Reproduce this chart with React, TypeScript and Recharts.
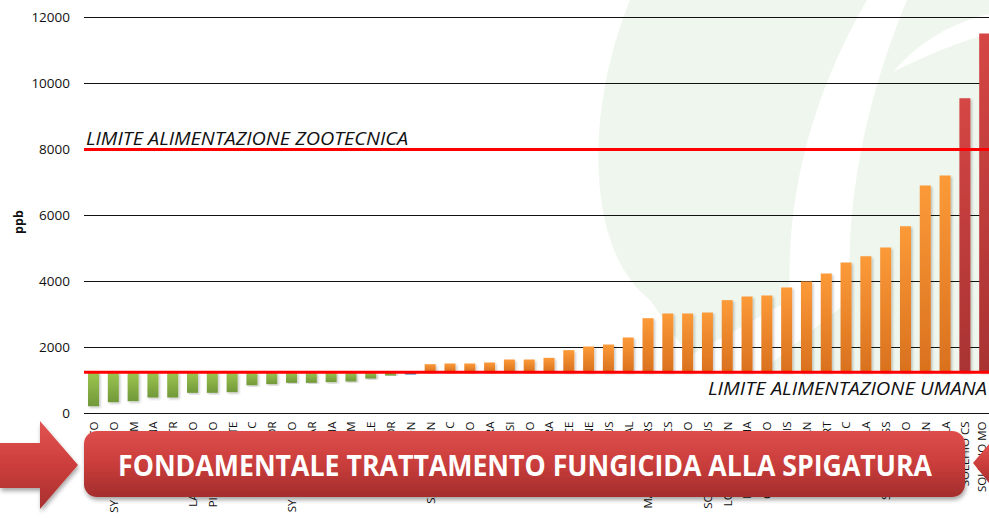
import { BarChart, Bar, XAxis, YAxis, CartesianGrid, ReferenceLine, Cell } from "recharts";

// varietà in prova, ordinate per contenuto di DON (ppb)
const categories = [
  "ARTICO", "SY MONTALCINO", "ARKADIA CM", "BOLOGNA", "NOGAL TR",
  "LA CASTELLARO", "PINEROLO BRIO", "CIRCE FORTE", "TIREX C", "SANTOR",
  "SY CAMPANELLO", "ALAMBAR", "ARABIA", "PALESIO M", "GENTILE",
  "GLADIATOR", "AUBUSSON", "SAGITTARIO SN", "BRAMANTE C", "TIEPOLO",
  "BANDERA", "GENESI", "SOLLARIO", "ALTAMIRA", "CAPRICE",
  "AMARONE", "ROMULUS", "NOGAL", "MANHATTAN RS", "ISENGRAIN CS",
  "CENTAURO", "SONATINA PLUS", "LOMBARDIA CN", "LIBELLULA MA", "CLAUDIO ORO",
  "ANTALIS", "DYLAN", "ALBERT", "IRIDE C", "SARAGOLLA",
  "SIMETO PLUSS", "NORMANNO", "TRISTAN", "ISOLA BELLA", "SOLEHIO CS",
  "SOLEHIO MO",
];

const values = [
  220, 342, 373, 485, 485, 626, 626, 646, 858, 889,
  929, 929, 950, 970, 1060, 1150, 1180, 1495, 1515, 1515,
  1545, 1636, 1636, 1687, 1920, 2030, 2090, 2303, 2888, 3030,
  3030, 3060, 3435, 3545, 3576, 3818, 4000, 4242, 4576, 4767,
  5030, 5676, 6909, 7212, 9555, 11515,
];

const yTicks = [0, 2000, 4000, 6000, 8000, 10000, 12000];

const LIMITE_UMANA = 1250;
const LIMITE_ZOOTECNICA = 8000;
const labelZoo = "LIMITE ALIMENTAZIONE ZOOTECNICA";
const labelUmana = "LIMITE ALIMENTAZIONE UMANA";
const bannerText = "FONDAMENTALE TRATTAMENTO FUNGICIDA ALLA SPIGATURA";

const data = categories.map((name, i) => ({ name, value: values[i] }));

const BLUE_INDEX = 16;
const FONT = "'Open Sans', sans-serif";

function barFill(v: number, i: number) {
  if (i === BLUE_INDEX) return "#4F81BD";
  if (v < LIMITE_UMANA) return "url(#gGreen)";
  if (v > LIMITE_ZOOTECNICA) return "url(#gRed)";
  return "url(#gOrange)";
}

function XTick({ x, y, payload, index }: any) {
  const ty = y + 6;
  // the last label sits on the page edge: pull it in a little
  const tx = index === categories.length - 1 ? x - 3 : x;
  return (
    <text
      x={tx}
      y={ty}
      dy="0.35em"
      transform={`rotate(-90, ${tx}, ${ty})`}
      textAnchor="end"
      fontSize={11.5}
      fontFamily={FONT}
      fill="#111"
    >
      {payload.value}
    </text>
  );
}

function Background() {
  return (
    <svg width={989} height={518} style={{ position: "absolute", left: 0, top: 0 }}>
      <path
        d="M630 0 C585 110 585 250 650 300 L700 372 L989 372 L989 0 Z"
        fill="#EEF6ED"
      />
      <path d="M867 0 C815 90 785 190 790 300 L660 372 L760 372 L850 300 C845 190 870 90 907 0 Z" fill="#fff" />
      <path d="M893 72 C920 40 955 22 989 14 L989 34 C958 42 925 56 893 72 Z" fill="#fff" />
    </svg>
  );
}

function Overlay() {
  return (
    <svg
      width={989}
      height={518}
      style={{ position: "absolute", left: 0, top: 0, pointerEvents: "none" }}
    >
      <defs>
        <linearGradient id="gBanner" x1="0" y1="0" x2="0" y2="1">
          <stop offset="0" stopColor="#DE4E4C" />
          <stop offset="0.5" stopColor="#C93D3B" />
          <stop offset="1" stopColor="#A32D2C" />
        </linearGradient>
        <linearGradient id="gArrow" x1="0" y1="0" x2="0" y2="1">
          <stop offset="0" stopColor="#E25452" />
          <stop offset="0.5" stopColor="#CC3E3C" />
          <stop offset="1" stopColor="#A8302E" />
        </linearGradient>
        <filter id="bShadow" x="-5%" y="-20%" width="110%" height="150%">
          <feDropShadow dx="1" dy="3" stdDeviation="2" floodColor="#000" floodOpacity="0.35" />
        </filter>
      </defs>
      <polygon
        points="0,443 40,443 40,421 78,465 40,509 40,488 0,488"
        fill="url(#gArrow)"
        filter="url(#bShadow)"
      />
      <polygon points="973,463 989,444 989,483" fill="url(#gArrow)" />
      <rect
        x={84}
        y={431}
        width={881}
        height={66}
        rx={13}
        fill="url(#gBanner)"
        filter="url(#bShadow)"
      />
      <text
        x={525}
        y={476}
        textAnchor="middle"
        fontFamily={FONT}
        fontWeight="bold"
        fontSize={28}
        fill="#fff"
        textLength={814}
        lengthAdjust="spacingAndGlyphs"
      >
        {bannerText}
      </text>
    </svg>
  );
}

export default function App() {
  return (
    <div
      style={{
        position: "fixed",
        left: 0,
        top: 0,
        width: 989,
        height: 518,
        overflow: "hidden",
        background: "#fff",
      }}
    >
      <Background />
      <div style={{ position: "absolute", left: 0, top: 0 }}>
        <BarChart
          width={995}
          height={518}
          data={data}
          margin={{ top: 17.5, right: 0, left: 14, bottom: 0 }}
        >
          <defs>
            <linearGradient id="gGreen" x1="0" y1="0" x2="0" y2="1">
              <stop offset="0" stopColor="#9DC64F" />
              <stop offset="1" stopColor="#71983A" />
            </linearGradient>
            <linearGradient id="gOrange" x1="0" y1="0" x2="0" y2="1">
              <stop offset="0" stopColor="#FC9A38" />
              <stop offset="1" stopColor="#D9711E" />
            </linearGradient>
            <linearGradient id="gRed" x1="0" y1="0" x2="0" y2="1">
              <stop offset="0" stopColor="#D54645" />
              <stop offset="1" stopColor="#A93332" />
            </linearGradient>
            <filter id="barShadow" x="-30%" y="-5%" width="160%" height="115%">
              <feDropShadow dx="1.5" dy="1.5" stdDeviation="1" floodColor="#000" floodOpacity="0.22" />
            </filter>
          </defs>
          <CartesianGrid vertical={false} stroke="#111" strokeWidth={1} />
          <XAxis
            dataKey="name"
            interval={0}
            height={104.5}
            axisLine={false}
            tickLine={false}
            tickSize={0}
            tick={<XTick />}
          />
          <YAxis
            width={70}
            domain={[0, 12000]}
            ticks={yTicks}
            axisLine={false}
            tickLine={false}
            tickSize={0}
            tickMargin={14}
            tick={{ fill: "#111", fontSize: 13.5, fontFamily: FONT }}
            label={{
              content: () => (
                <text
                  x={18}
                  y={222}
                  transform="rotate(-90, 18, 222)"
                  textAnchor="middle"
                  dominantBaseline="central"
                  fontFamily={FONT}
                  fontWeight="bold"
                  fontSize={12.5}
                  fill="#111"
                >
                  ppb
                </text>
              ),
            }}
          />
          <Bar
            dataKey={(d: any) => [Math.min(d.value, LIMITE_UMANA), Math.max(d.value, LIMITE_UMANA)]}
            barSize={11}
            isAnimationActive={false}
          >
            {data.map((d, i) => (
              <Cell key={d.name} fill={barFill(d.value, i)} filter="url(#barShadow)" />
            ))}
          </Bar>
          <ReferenceLine
            y={LIMITE_ZOOTECNICA}
            stroke="#FF0000"
            strokeWidth={3}
            label={{
              content: ({ viewBox }: any) => (
                <text
                  x={viewBox.x + 2}
                  y={viewBox.y - 5}
                  fontFamily={FONT}
                  fontStyle="italic"
                  fontSize={18}
                  fill="#111"
                  textLength={322}
                  lengthAdjust="spacingAndGlyphs"
                >
                  {labelZoo}
                </text>
              ),
            }}
          />
          <ReferenceLine
            y={LIMITE_UMANA}
            stroke="#FF0000"
            strokeWidth={3}
            label={{
              content: ({ viewBox }: any) => (
                <text
                  x={708}
                  y={viewBox.y + 23}
                  fontFamily={FONT}
                  fontStyle="italic"
                  fontSize={18}
                  fill="#111"
                  textLength={279}
                  lengthAdjust="spacingAndGlyphs"
                >
                  {labelUmana}
                </text>
              ),
            }}
          />
        </BarChart>
      </div>
      <Overlay />
    </div>
  );
}
